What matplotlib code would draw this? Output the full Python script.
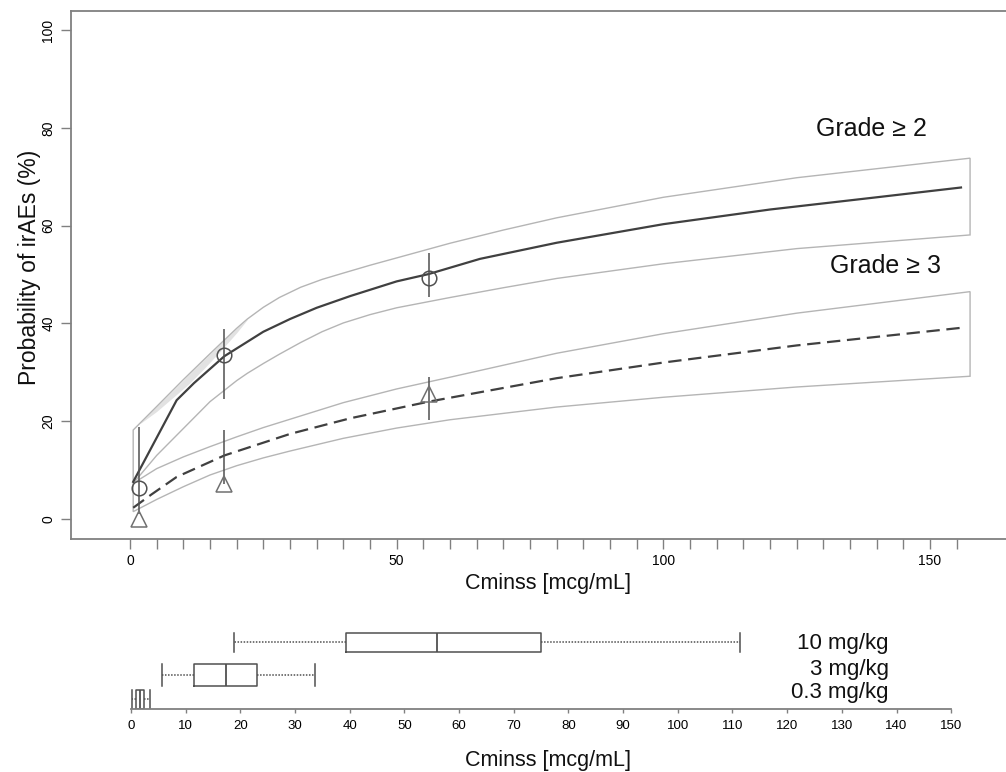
import numpy as np
import matplotlib
matplotlib.use('Agg')
import matplotlib.pyplot as plt

plt.rcParams['font.family'] = ['Liberation Sans', 'DejaVu Sans']

# ---------------- data ----------------
# Grade >= 2 model prediction
g2_mean_x = [0.6, 8.75, 12, 17.7, 25, 30, 35, 41.3, 50, 56, 65.6, 80, 100, 120, 140, 155.8]
g2_mean_y = [7.6, 24.3, 27.8, 33.3, 38.3, 40.9, 43.2, 45.6, 48.6, 50.1, 53.2, 56.5, 60.3, 63.3, 65.8, 67.8]
# Grade >= 2 confidence band
g2_band_x = [0.6, 5, 10, 15, 20, 22, 25, 28, 32, 36, 40, 45, 50, 60, 70, 80, 100, 125, 157.5]
g2_hi = [18.2, 23.0, 28.5, 33.8, 39.0, 40.9, 43.3, 45.3, 47.4, 49.0, 50.3, 51.9, 53.4, 56.4, 59.1, 61.6, 65.8, 69.8, 73.8]
g2_lo = [7.3, 13.0, 18.5, 24.0, 28.3, 29.8, 31.8, 33.7, 36.1, 38.3, 40.1, 41.8, 43.2, 45.3, 47.3, 49.2, 52.2, 55.3, 58.1]
# faint shaded sliver under the upper Grade>=2 band line
shade_x = [2, 5, 8, 11, 14, 17, 20, 22]
shade_top = [19.7, 23.0, 26.2, 29.5, 32.7, 35.9, 39.0, 40.9]
shade_bot = [19.6, 22.0, 24.8, 27.6, 30.9, 34.4, 38.1, 40.8]
# Grade >= 3 model prediction
g3_mean_x = [0.6, 4, 8.75, 17.7, 30, 41.3, 56, 80, 100, 125, 155.8]
g3_mean_y = [2.3, 5.0, 8.6, 13.0, 17.4, 20.6, 24.0, 28.8, 32.0, 35.5, 39.1]
# Grade >= 3 confidence band
g3_band_x = [0.6, 5, 10, 15, 20, 25, 30, 40, 50, 60, 80, 100, 125, 157.5]
g3_hi = [7.3, 10.3, 12.7, 14.8, 16.8, 18.7, 20.4, 23.8, 26.6, 29.0, 33.9, 37.9, 42.1, 46.5]
g3_lo = [1.5, 4.0, 6.6, 9.0, 10.9, 12.5, 13.9, 16.5, 18.6, 20.3, 22.9, 24.9, 27.0, 29.2]
# observed proportions per dose group
obs_x = [1.7, 17.6, 56.1]
g2_obs = [6.3, 33.6, 49.2]
g2_err_lo = [1.0, 24.5, 45.5]
g2_err_hi = [18.9, 38.8, 54.5]
g3_obs = [0.0, 7.2, 25.6]
g3_err_lo = [0.0, 7.2, 20.2]
g3_err_hi = [0.0, 18.3, 29.0]

# exposure distribution by dose
doses = ['0.3 mg/kg', '3 mg/kg', '10 mg/kg']
box_whislo = [0.1, 5.7, 18.8]
box_q1 = [0.9, 11.6, 39.4]
box_med = [1.6, 17.3, 55.9]
box_q3 = [2.4, 23.1, 75.0]
box_whishi = [3.4, 33.6, 111.4]

x_ticks = list(range(0, 160, 5))
x_labels = [str(t) if t % 50 == 0 else '' for t in x_ticks]
y_ticks = [0, 20, 40, 60, 80, 100]
bx_ticks = list(range(0, 160, 10))

# ---------------- figure ----------------
W, H = 1006, 772
fig = plt.figure(figsize=(W / 100, H / 100), dpi=100)

axis_col = '#808080'
band_col = '#b5b5b5'
line_col = '#404040'
mark_col = '#505050'

ax = fig.add_axes([71 / W, 1 - 539 / H, (1025 - 71) / W, (539 - 11) / H])
ax.set_xlim(-11.06, 167.8)
ax.set_ylim(-4.09, 103.9)

# bands
ax.fill(np.r_[g2_band_x, g2_band_x[::-1]], np.r_[g2_hi, g2_lo[::-1]],
        facecolor='none', edgecolor=band_col, lw=1.0, zorder=1)
ax.fill(np.r_[g3_band_x, g3_band_x[::-1]], np.r_[g3_hi, g3_lo[::-1]],
        facecolor='none', edgecolor=band_col, lw=1.0, zorder=1)
ax.fill_between(shade_x, shade_bot, shade_top, color='#e2e2e2', lw=0, zorder=0.5)

# model lines
ax.plot(g2_mean_x, g2_mean_y, color=line_col, lw=1.6, zorder=3)
ax.plot(g3_mean_x, g3_mean_y, color=line_col, lw=1.6, ls=(0, (6, 3)), zorder=3)

# observed with error bars
ax.vlines(obs_x, g2_err_lo, g2_err_hi, color=mark_col, lw=1.1, zorder=4)
ax.vlines(obs_x, g3_err_lo, g3_err_hi, color=mark_col, lw=1.1, zorder=4)
ax.plot(obs_x, g2_obs, ls='none', marker='o', ms=10.5, mfc='none',
        mec=mark_col, mew=1.1, zorder=5)
ax.plot(obs_x, g3_obs, ls='none', marker='^', ms=11, mfc='none',
        mec='#707070', mew=1.1, zorder=5)

ax.text(139.1, 79.7, 'Grade \u2265 2', fontsize=18, ha='center', va='center', color='#111111')
ax.text(141.6, 51.8, 'Grade \u2265 3', fontsize=18, ha='center', va='center', color='#111111')

ax.set_xticks(x_ticks)
ax.set_xticklabels(x_labels, fontsize=10)
ax.set_yticks(y_ticks)
ax.set_yticklabels([str(t) for t in y_ticks], fontsize=10, rotation=90, va='center')
ax.tick_params(axis='both', direction='out', length=7.2, width=1.0, color=axis_col)
ax.tick_params(axis='x', pad=3.8)
ax.tick_params(axis='y', pad=4.0)
for s in ax.spines.values():
    s.set_color(axis_col)
    s.set_linewidth(1.3)

ax.set_xlabel('Cminss [mcg/mL]', fontsize=15.5, color='#111111')
ax.xaxis.set_label_coords(0.5, -0.064)
ax.set_ylabel('Probability of irAEs (%)', fontsize=16.5, color='#111111')
ax.yaxis.set_label_coords(-0.031, 0.515)

# ---------------- bottom boxplot panel ----------------
ax2 = fig.add_axes([71 / W, 1 - 708.7 / H, (1025 - 71) / W, (708.7 - 620) / H])
ax2.patch.set_alpha(0)
ax2.set_xlim(-10.97, 163.5)
ax2.set_ylim(0.670, 3.78)
box_pos = [1.0, 1.85, 3.0]
box_w = [0.66, 0.76, 0.68]
label_pos = [1.25, 2.06, 2.95]

stats = []
for i, d in enumerate(doses):
    stats.append(dict(label=d, whislo=box_whislo[i], q1=box_q1[i], med=box_med[i],
                      q3=box_q3[i], whishi=box_whishi[i], fliers=[]))
ax2.bxp(stats, positions=box_pos, widths=box_w, vert=False, showfliers=False,
        boxprops=dict(color=mark_col, lw=1.1),
        medianprops=dict(color=mark_col, lw=1.3),
        whiskerprops=dict(color=mark_col, lw=1.1, ls=(0, (1, 1))),
        capprops=dict(color=mark_col, lw=1.1),
        capwidths=box_w, manage_ticks=False)

for p, d in zip(label_pos, doses):
    ax2.text(138.6, p, d, fontsize=16, ha='right', va='center', color='#111111')

for k in ['left', 'right', 'top']:
    ax2.spines[k].set_visible(False)
ax2.spines['bottom'].set_bounds(0, 150)
ax2.spines['bottom'].set_color(axis_col)
ax2.spines['bottom'].set_linewidth(1.3)
ax2.set_yticks([])
ax2.set_xticks(bx_ticks)
ax2.set_xticklabels([str(t) for t in bx_ticks], fontsize=9.5)
ax2.tick_params(axis='x', direction='out', length=3.2, width=1.0, color=axis_col, pad=5)
ax2.set_xlabel('Cminss [mcg/mL]', fontsize=15.5, color='#111111')
ax2.xaxis.set_label_coords(0.5, -0.46)

fig.savefig('out.png', dpi=100)
